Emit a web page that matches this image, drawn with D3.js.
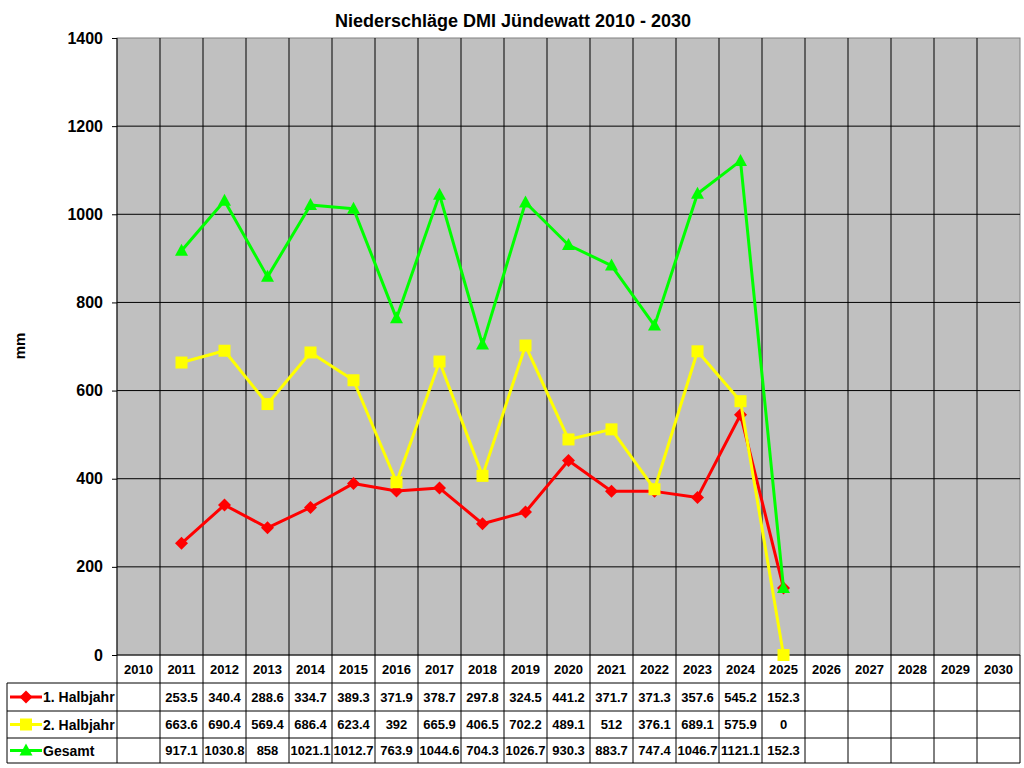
<!DOCTYPE html>
<html>
<head>
<meta charset="utf-8">
<script src="https://cdn.jsdelivr.net/npm/d3@7"></script>
<style>
  body { margin: 0; background: #fff; }
  text { font-family: "Liberation Sans", Arial, sans-serif; font-weight: bold; fill: #000; }
</style>
</head>
<body>
<svg id="canvas" width="1024" height="768"></svg>
<script>
// Niederschläge DMI Jündewatt, Werte aus der Tabelle unter dem Diagramm
let years = ['2010', '2011', '2012', '2013', '2014', '2015', '2016', '2017', '2018', '2019', '2020',
             '2021', '2022', '2023', '2024', '2025', '2026', '2027', '2028', '2029', '2030']

let halbjahr1 = [null, 253.5, 340.4, 288.6, 334.7, 389.3, 371.9, 378.7, 297.8, 324.5, 441.2,
                 371.7, 371.3, 357.6, 545.2, 152.3, null, null, null, null, null]
let halbjahr2 = [null, 663.6, 690.4, 569.4, 686.4, 623.4, 392, 665.9, 406.5, 702.2, 489.1,
                 512, 376.1, 689.1, 575.9, 0, null, null, null, null, null]
let gesamt = [null, 917.1, 1030.8, 858, 1021.1, 1012.7, 763.9, 1044.6, 704.3, 1026.7, 930.3,
              883.7, 747.4, 1046.7, 1121.1, 152.3, null, null, null, null, null]

let yTicks = [0, 200, 400, 600, 800, 1000, 1200, 1400]

let series = [
    { name: '1. Halbjahr', values: halbjahr1, color: '#ff0000', marker: 'diamond' },
    { name: '2. Halbjahr', values: halbjahr2, color: '#ffff00', marker: 'square' },
    { name: 'Gesamt', values: gesamt, color: '#00ff00', marker: 'triangle' }
]

let canvas = d3.select('#canvas')

let plotLeft = 117, plotRight = 1020, plotTop = 38, plotBottom = 655
let rowLines = [655, 683, 711, 738, 763]

let x = d3.scaleBand().domain(years).range([plotLeft, plotRight])
let y = d3.scaleLinear().domain([0, 1400]).range([plotBottom, plotTop])

// Plotfläche
canvas.append('rect')
    .attr('x', plotLeft).attr('y', plotTop)
    .attr('width', plotRight - plotLeft).attr('height', plotBottom - plotTop)
    .attr('fill', '#c0c0c0')
    .attr('stroke', '#808080')

// horizontale Gitternetzlinien
canvas.append('g')
    .selectAll('line')
    .data(yTicks.filter(t => t > 0 && t < 1400))
    .enter()
    .append('line')
    .attr('x1', plotLeft).attr('x2', plotRight)
    .attr('y1', t => y(t)).attr('y2', t => y(t))
    .attr('stroke', '#000')

// vertikale Linien, laufen durch die Tabelle durch
canvas.append('g')
    .selectAll('line')
    .data(years.slice(1))
    .enter()
    .append('line')
    .attr('x1', d => x(d)).attr('x2', d => x(d))
    .attr('y1', plotTop).attr('y2', rowLines[4])
    .attr('stroke', '#000')

// Tabelle
let table = canvas.append('g')
table.append('line')
    .attr('x1', plotLeft).attr('x2', plotLeft)
    .attr('y1', plotTop).attr('y2', rowLines[4])
    .attr('stroke', '#000')
table.append('line')
    .attr('x1', plotRight).attr('x2', plotRight)
    .attr('y1', plotBottom).attr('y2', rowLines[4])
    .attr('stroke', '#000')
table.append('line')
    .attr('x1', 7).attr('x2', 7)
    .attr('y1', rowLines[1]).attr('y2', rowLines[4])
    .attr('stroke', '#000')
table.selectAll('.rowline')
    .data(rowLines)
    .enter()
    .append('line')
    .attr('class', 'rowline')
    .attr('x1', (d, i) => i === 0 ? plotLeft : 7).attr('x2', plotRight)
    .attr('y1', d => d).attr('y2', d => d)
    .attr('stroke', '#000')

table.selectAll('.year')
    .data(years)
    .enter()
    .append('text')
    .attr('class', 'year')
    .attr('x', d => x(d) + x.bandwidth() / 2)
    .attr('y', (rowLines[0] + rowLines[1]) / 2 + 4.5)
    .attr('text-anchor', 'middle')
    .style('font-size', '13px')
    .text(d => d)

// Y-Achse
let yAxis = d3.axisLeft(y).tickValues(yTicks).tickFormat(d3.format('d')).tickSize(5).tickPadding(9)
let axisG = canvas.append('g')
    .attr('transform', 'translate(' + plotLeft + ',0)')
    .call(yAxis)
axisG.select('.domain').remove()
axisG.selectAll('line').attr('stroke', '#000')
axisG.selectAll('text')
    .attr('fill', '#000')
    .style('font-size', '16px')
    .style('font-family', '"Liberation Sans", Arial, sans-serif')
    .style('font-weight', 'bold')

canvas.append('text')
    .attr('transform', 'translate(25, 346) rotate(-90)')
    .attr('text-anchor', 'middle')
    .style('font-size', '15px')
    .text('mm')

canvas.append('text')
    .attr('x', 513).attr('y', 27)
    .attr('text-anchor', 'middle')
    .style('font-size', '18px')
    .text('Niederschläge DMI Jündewatt 2010 - 2030')

let drawMarker = (sel, type, color, cx, cy) => {
    if (type === 'diamond') {
        sel.append('path')
            .attr('d', 'M' + cx + ',' + (cy - 6.5) + 'L' + (cx + 6.5) + ',' + cy + 'L' + cx + ',' + (cy + 6.5) + 'L' + (cx - 6.5) + ',' + cy + 'Z')
            .attr('fill', color)
    } else if (type === 'square') {
        sel.append('rect')
            .attr('x', cx - 6).attr('y', cy - 6)
            .attr('width', 12).attr('height', 12)
            .attr('fill', color)
    } else {
        sel.append('path')
            .attr('d', 'M' + cx + ',' + (cy - 7) + 'L' + (cx + 6.5) + ',' + (cy + 5) + 'L' + (cx - 6.5) + ',' + (cy + 5) + 'Z')
            .attr('fill', color)
    }
}

let line = d3.line()
    .defined(d => d.v != null)
    .x(d => x(d.year) + x.bandwidth() / 2)
    .y(d => y(d.v))

series.forEach((s, si) => {
    let pts = years.map((yr, i) => ({ year: yr, v: s.values[i] }))
    let g = canvas.append('g')
    g.append('path')
        .datum(pts)
        .attr('d', line)
        .attr('fill', 'none')
        .attr('stroke', s.color)
        .attr('stroke-width', 3)
        .attr('stroke-linejoin', 'round')
    pts.filter(p => p.v != null).forEach(p => {
        drawMarker(g, s.marker, s.color, x(p.year) + x.bandwidth() / 2, y(p.v))
    })

    // Tabellenzeile
    let rowMid = (rowLines[si + 1] + rowLines[si + 2]) / 2
    let legend = canvas.append('g')
    legend.append('line')
        .attr('x1', 10).attr('x2', 42)
        .attr('y1', rowMid).attr('y2', rowMid)
        .attr('stroke', s.color).attr('stroke-width', 3)
    drawMarker(legend, s.marker, s.color, 26, rowMid)
    legend.append('text')
        .attr('x', 43).attr('y', rowMid + 5)
        .style('font-size', '14px')
        .text(s.name)

    legend.selectAll('.val')
        .data(pts.filter(p => p.v != null))
        .enter()
        .append('text')
        .attr('x', p => x(p.year) + x.bandwidth() / 2)
        .attr('y', rowMid + 4.5)
        .attr('text-anchor', 'middle')
        .style('font-size', '13px')
        .text(p => p.v)
})
</script>
</body>
</html>
